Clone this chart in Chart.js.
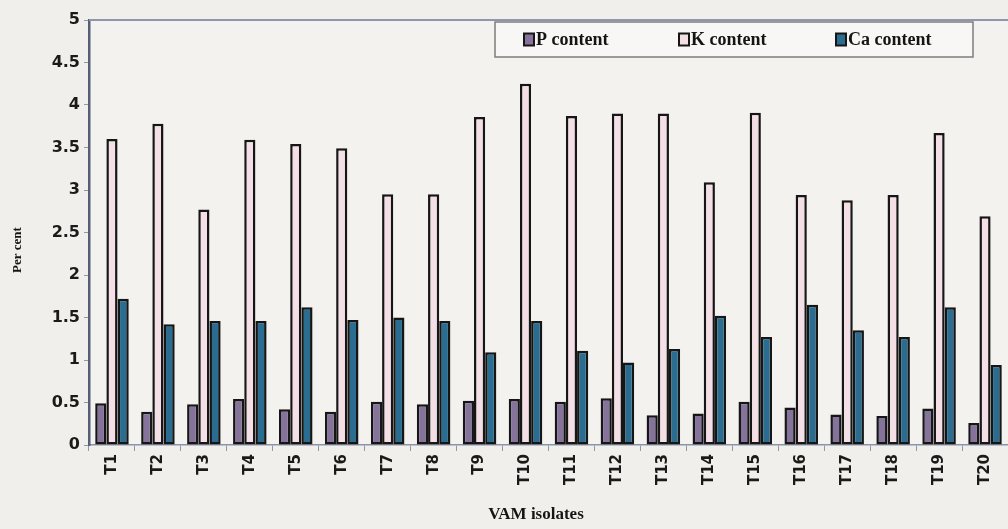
<!DOCTYPE html>
<html>
<head>
<meta charset="utf-8">
<script src="https://cdn.jsdelivr.net/npm/chart.js@4.4.1/dist/chart.umd.min.js"></script>
<style>
  html, body { margin: 0; padding: 0; background: #f2f0ed; }
  #wrap { width: 1008px; height: 529px; position: relative; }
</style>
</head>
<body>
<div id="wrap"><canvas id="c" width="1008" height="529"></canvas></div>
<script>
// Nutrient content of plants inoculated with each VAM isolate
const isolates = ['T1','T2','T3','T4','T5','T6','T7','T8','T9','T10',
                  'T11','T12','T13','T14','T15','T16','T17','T18','T19','T20'];
const pContent  = [0.49,0.39,0.48,0.54,0.42,0.39,0.51,0.48,0.52,0.54,
                   0.51,0.55,0.35,0.37,0.51,0.44,0.36,0.34,0.43,0.26];
const kContent  = [3.60,3.78,2.77,3.59,3.54,3.49,2.95,2.95,3.86,4.25,
                   3.87,3.90,3.90,3.09,3.91,2.94,2.88,2.94,3.67,2.69];
const caContent = [1.72,1.42,1.46,1.46,1.62,1.47,1.50,1.46,1.09,1.46,
                   1.11,0.97,1.13,1.52,1.27,1.65,1.35,1.27,1.62,0.94];
const seriesNames = ['P content', 'K content', 'Ca content'];
const yTicks = [0, 0.5, 1, 1.5, 2, 2.5, 3, 3.5, 4, 4.5, 5];

const fills = ['#85739c', '#f3dfe5', '#2a6d90'];
const edge = '#161616';

// Background, top frame, boxed legend and axis titles
const decor = {
  id: 'decor',
  beforeDraw(chart) {
    const ctx = chart.ctx;
    ctx.save();
    ctx.fillStyle = '#f1efeb';
    ctx.fillRect(0, 0, chart.width, chart.height);
    const a = chart.chartArea;
    ctx.fillStyle = '#f4f2ee';
    ctx.fillRect(a.left, a.top, a.right - a.left, a.bottom - a.top);
    ctx.restore();
  },
  afterDraw(chart) {
    const ctx = chart.ctx;
    const a = chart.chartArea;
    ctx.save();
    // top frame line
    ctx.strokeStyle = '#8d96ab';
    ctx.lineWidth = 2;
    ctx.beginPath();
    ctx.moveTo(a.left, a.top);
    ctx.lineTo(a.right, a.top);
    ctx.stroke();

    // legend box
    const lx = 495, ly = 22, lw = 478, lh = 35;
    ctx.fillStyle = '#f8f7f5';
    ctx.fillRect(lx, ly, lw, lh);
    ctx.strokeStyle = '#7d7d7d';
    ctx.lineWidth = 1.5;
    ctx.strokeRect(lx, ly, lw, lh);
    const starts = [524, 679, 836];
    const cy = ly + lh / 2;
    ctx.font = 'bold 18px "Liberation Serif", "Times New Roman", serif';
    ctx.textBaseline = 'middle';
    ctx.textAlign = 'left';
    seriesNames.forEach((name, i) => {
      const sx = starts[i];
      ctx.fillStyle = fills[i];
      ctx.fillRect(sx, cy - 6, 10, 12);
      ctx.strokeStyle = edge;
      ctx.lineWidth = 2;
      ctx.strokeRect(sx, cy - 6, 10, 12);
      ctx.fillStyle = '#151515';
      ctx.fillText(name, sx + 12, cy + 1);
    });

    // axis titles
    ctx.fillStyle = '#151515';
    ctx.font = 'bold 17px "Liberation Serif", "Times New Roman", serif';
    ctx.textAlign = 'center';
    ctx.textBaseline = 'middle';
    ctx.fillText('VAM isolates', 536, 515);
    ctx.translate(18, 250);
    ctx.rotate(-Math.PI / 2);
    ctx.font = 'bold 13px "Liberation Serif", "Times New Roman", serif';
    ctx.fillText('Per cent', 0, 0);
    ctx.restore();
  }
};

const makeSet = (label, data, i) => ({
  label,
  data,
  backgroundColor: fills[i],
  borderColor: edge,
  borderWidth: 2.5,
  borderSkipped: false,
  categoryPercentage: 0.73,
  barPercentage: 1.0
});

new Chart(document.getElementById('c'), {
  type: 'bar',
  data: {
    labels: isolates,
    datasets: [
      makeSet(seriesNames[0], pContent, 0),
      makeSet(seriesNames[1], kContent, 1),
      makeSet(seriesNames[2], caContent, 2)
    ]
  },
  options: {
    responsive: false,
    animation: false,
    devicePixelRatio: 1,
    layout: { padding: { top: 20, right: 0, left: 0, bottom: 0 } },
    plugins: {
      legend: { display: false },
      tooltip: { enabled: false }
    },
    scales: {
      x: {
        offset: true,
        grid: {
          display: true,
          drawOnChartArea: false,
          drawTicks: true,
          tickLength: 6,
          color: '#8f97aa',
          offset: true
        },
        border: { display: true, color: '#8c94aa', width: 1.5 },
        ticks: {
          minRotation: 90,
          maxRotation: 90,
          autoSkip: false,
          padding: 3,
          color: '#1a1a1a',
          font: { family: '"DejaVu Sans", Arial, sans-serif', weight: 'bold', size: 15 }
        },
        afterFit(scale) { scale.height = 84; }
      },
      y: {
        min: 0,
        max: 5,
        afterBuildTicks(scale) { scale.ticks = yTicks.map(v => ({ value: v })); },
        grid: {
          display: true,
          drawOnChartArea: false,
          drawTicks: true,
          tickLength: 5,
          color: '#8f97aa'
        },
        border: { display: true, color: '#555e76', width: 2.5 },
        ticks: {
          padding: 4,
          color: '#1a1a1a',
          callback: (v) => String(v),
          font: { family: '"DejaVu Sans", Arial, sans-serif', weight: 'bold', size: 16 }
        },
        afterFit(scale) { scale.width = 89; }
      }
    }
  },
  plugins: [decor]
});
</script>
</body>
</html>
